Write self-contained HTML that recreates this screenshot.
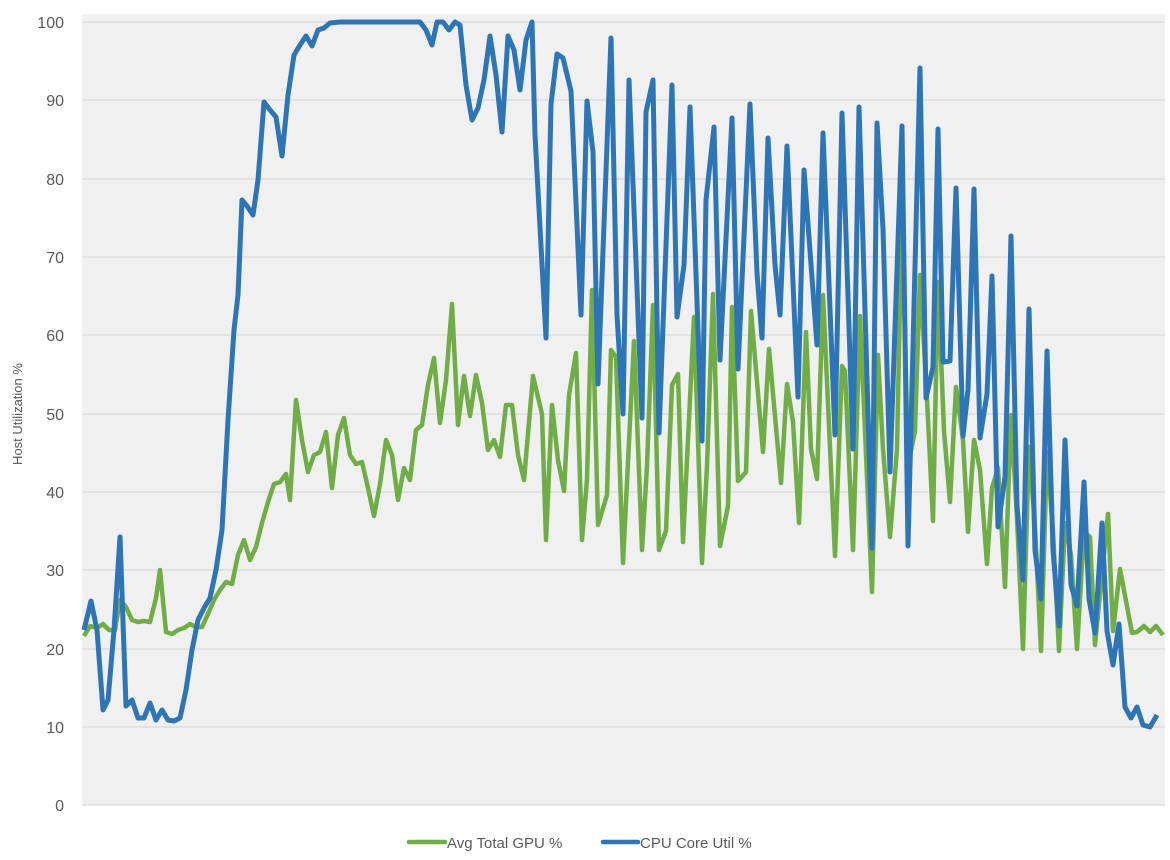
<!DOCTYPE html>
<html><head><meta charset="utf-8"><style>
html,body{margin:0;padding:0;background:#fff;}
svg{display:block;}
text{font-family:"Liberation Sans",sans-serif;fill:#595959;}
</style></head><body>
<svg width="1170" height="860" viewBox="0 0 1170 860" xmlns="http://www.w3.org/2000/svg">
<rect x="0" y="0" width="1170" height="860" fill="#fff"/>
<rect x="82" y="14" width="1083" height="791" fill="#f0f0f0"/>
<g stroke="#d9d9d9" stroke-width="1.2">
<line x1="82" y1="22" x2="1165" y2="22"/><line x1="82" y1="100" x2="1165" y2="100"/>
<line x1="82" y1="179" x2="1165" y2="179"/><line x1="82" y1="257" x2="1165" y2="257"/>
<line x1="82" y1="335" x2="1165" y2="335"/><line x1="82" y1="414" x2="1165" y2="414"/>
<line x1="82" y1="492" x2="1165" y2="492"/><line x1="82" y1="570" x2="1165" y2="570"/>
<line x1="82" y1="649" x2="1165" y2="649"/><line x1="82" y1="727" x2="1165" y2="727"/>
<line x1="82" y1="805" x2="1165" y2="805"/>
</g>
<g font-size="16" text-anchor="end">
<text x="64" y="28">100</text><text x="64" y="106">90</text><text x="64" y="185">80</text>
<text x="64" y="263">70</text><text x="64" y="341">60</text><text x="64" y="420">50</text>
<text x="64" y="498">40</text><text x="64" y="576">30</text><text x="64" y="655">20</text>
<text x="64" y="733">10</text><text x="64" y="811">0</text>
</g>
<text x="0" y="0" font-size="13" text-anchor="middle" transform="translate(22,414) rotate(-90)">Host Utilization %</text>
<polyline fill="none" stroke="#70ad47" stroke-width="4.5" stroke-linejoin="round" points="84,636 90,626 97,628 103,624 109,630 115,630 120,600 126,607 132,620 138,622 144,621 150,622 156,598 160,570 166,632 172,634 178,630 184,628 190,624 196,627 202,627 208,614 214,600 220,590 226,582 232,584 238,555 244,540 250,560 256,547 262,523 268,502 274,484 280,482 286,474 290,500 296,400 302,440 308,472 314,455 320,452 326,432 332,488 338,435 344,418 350,455 356,464 362,462 368,488 374,516 380,484 386,440 392,455 398,500 404,468 410,480 416,430 422,425 428,385 434,358 440,423 446,380 452,304 458,425 464,376 470,416 476,375 482,403 488,450 494,440 500,457 506,405 512,405 518,455 524,480 533,376 542,414 546,540 552,405 558,460 564,491 569,395 576,353 582,540 587,479 592,290 598,525 607,495 611,350 616,357 623,563 634,341 642,550 647,466 653,305 659,550 666,531 672,385 678,374 683,542 694,317 702,563 707,466 713,294 720,546 728,506 732,307 738,481 746,472 751,311 763,452 769,349 781,483 787,384 793,422 799,523 806,332 811,449 817,479 823,295 835,556 842,366 845,371 853,550 860,316 872,592 878,355 883,449 890,537 897,449 902,202 908,465 915,431 920,275 927,399 933,521 938,282 944,431 950,502 956,387 963,440 968,532 974,440 980,470 987,564 992,488 998,468 1005,587 1011,415 1017,518 1023,649 1029,447 1035,527 1041,651 1047,452 1053,532 1059,651 1065,523 1071,555 1077,649 1084,532 1090,537 1095,645 1102,573 1108,514 1113,631 1120,569 1132,633 1137,632 1144,626 1150,632 1156,626 1163,635"/>
<polyline fill="none" stroke="#2e75b6" stroke-width="5" stroke-linejoin="round" points="84,630 91,601 97,630 103,710 108,700 114,630 120,537 126,706 132,700 138,718 144,718 150,703 156,720 162,710 168,720 174,721 180,718 186,690 192,650 198,620 204,608 210,598 216,570 222,530 228,420 234,330 238,295 242,200 247,206 253,215 258,180 264,102 270,110 276,117 282,156 288,95 294,55 300,45 306,36 312,46 318,30 324,28 330,23 340,22 380,22 420,22 426,30 432,45 437,22 443,22 449,30 455,22 460,25 466,85 472,120 478,108 484,80 490,36 496,75 502,132 508,36 514,50 520,90 526,40 532,22 535,135 546,338 551,104 557,54 563,58 571,91 581,315 587,101 593,152 598,384 611,38 617,315 623,414 629,80 642,418 646,112 653,80 659,433 672,85 677,317 684,265 690,107 702,441 706,200 714,127 720,360 732,118 738,369 750,104 757,273 762,338 768,138 775,265 780,315 787,146 798,397 804,170 817,345 823,133 835,435 842,113 853,449 859,107 872,548 877,123 883,229 890,472 902,126 908,546 920,68 926,398 933,367 938,129 943,362 950,361 956,188 963,436 968,390 974,189 980,438 987,394 992,276 998,527 1005,477 1011,236 1017,505 1023,580 1029,309 1035,550 1041,599 1047,351 1053,550 1059,626 1065,440 1071,585 1077,606 1084,482 1089,599 1095,633 1102,523 1107,631 1113,665 1119,624 1125,707 1131,718 1137,707 1143,725 1150,727 1157,715"/>
<line x1="409" y1="842" x2="445" y2="842" stroke="#70ad47" stroke-width="4.5" stroke-linecap="round"/>
<text x="447" y="848" font-size="15">Avg Total GPU %</text>
<line x1="603" y1="842" x2="638" y2="842" stroke="#2e75b6" stroke-width="4.5" stroke-linecap="round"/>
<text x="640" y="848" font-size="15">CPU Core Util %</text>
</svg>
</body></html>
